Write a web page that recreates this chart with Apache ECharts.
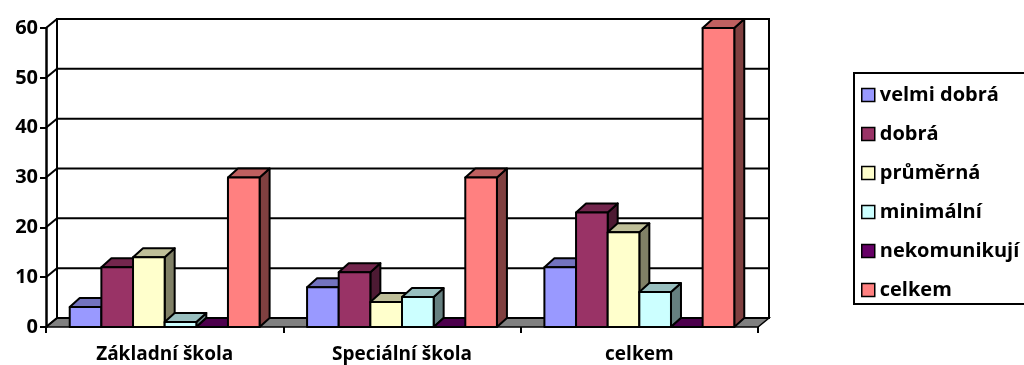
<!DOCTYPE html>
<html>
<head>
<meta charset="utf-8">
<script src="https://cdn.jsdelivr.net/npm/echarts@6/dist/echarts.min.js"></script>
<style>
  html, body { margin: 0; padding: 0; background: #fff; }
  #chart { width: 1024px; height: 365px; }
</style>
</head>
<body>
<div id="chart"></div>
<script>
// Hodnocení komunikace žáků podle typu školy
const categories = ['Základní škola', 'Speciální škola', 'celkem'];
const seriesNames = ['velmi dobrá', 'dobrá', 'průměrná', 'minimální', 'nekomunikují', 'celkem'];
const velmiDobra   = [4, 8, 12];
const dobra        = [12, 11, 23];
const prumerna     = [14, 5, 19];
const minimalni    = [1, 6, 7];
const nekomunikuji = [0, 0, 0];
const celkem       = [30, 30, 60];
const yTicks = [0, 10, 20, 30, 40, 50, 60];

const seriesValues = [velmiDobra, dobra, prumerna, minimalni, nekomunikuji, celkem];
const colors = ['#9999FF', '#993366', '#FFFFCC', '#CCFFFF', '#660066', '#FF8080'];

const FONT = '"Open Sans"';
const DEPTH_X = 11, DEPTH_Y = -9;   // oblique depth of the 3-D box
const BAR_DX = 10, BAR_DY = -9;     // depth of each column

function shade(hex, k) {
  const n = parseInt(hex.slice(1), 16);
  const r = Math.round(((n >> 16) & 255) * k);
  const g = Math.round(((n >> 8) & 255) * k);
  const b = Math.round((n & 255) * k);
  return 'rgb(' + r + ',' + g + ',' + b + ')';
}

// walls, floor and back-wall gridlines
function renderWalls(params, api) {
  const cs = params.coordSys;
  const left = cs.x, right = cs.x + cs.width;
  const y0 = api.coord([0, 0])[1];
  const children = [];
  // floor
  children.push({
    type: 'polygon',
    shape: { points: [[left, y0], [right, y0], [right + DEPTH_X, y0 + DEPTH_Y], [left + DEPTH_X, y0 + DEPTH_Y]] },
    style: { fill: '#808080', stroke: '#000', lineWidth: 1.5 }
  });
  // back wall
  const yTop = api.coord([0, yTicks[yTicks.length - 1]])[1];
  children.push({
    type: 'rect',
    shape: { x: left + DEPTH_X, y: yTop + DEPTH_Y, width: cs.width, height: y0 - yTop },
    style: { fill: '#fff', stroke: '#000', lineWidth: 2 }
  });
  // gridlines and their links to the front axis
  yTicks.forEach(function (t) {
    const yy = api.coord([0, t])[1];
    children.push({
      type: 'line',
      shape: { x1: left + DEPTH_X, y1: yy + DEPTH_Y, x2: right + DEPTH_X, y2: yy + DEPTH_Y },
      style: { stroke: '#000', lineWidth: 2 }
    });
    children.push({
      type: 'line',
      shape: { x1: left, y1: yy, x2: left + DEPTH_X, y2: yy + DEPTH_Y },
      style: { stroke: '#000', lineWidth: 2 }
    });
  });
  return { type: 'group', children: children };
}

function makeBarRenderer(s) {
  return function (params, api) {
    const ci = api.value(0);
    const v = api.value(1);
    const center = api.coord([ci, 0])[0];
    const band = api.size([1, 0])[0];
    const group = band * 0.8;
    const bw = group / seriesNames.length;
    const x0 = center - group / 2 + s * bw;
    const x1 = x0 + bw;
    const yb = api.coord([ci, 0])[1];
    const yt = api.coord([ci, v])[1];
    const c = colors[s];
    const stroke = { stroke: '#000', lineWidth: 2, lineJoin: 'round' };
    return {
      type: 'group',
      children: [
        { type: 'polygon',
          shape: { points: [[x1, yt], [x1 + BAR_DX, yt + BAR_DY], [x1 + BAR_DX, yb + BAR_DY], [x1, yb]] },
          style: Object.assign({ fill: shade(c, 0.5) }, stroke) },
        { type: 'polygon',
          shape: { points: [[x0, yt], [x1, yt], [x1 + BAR_DX, yt + BAR_DY], [x0 + BAR_DX, yt + BAR_DY]] },
          style: Object.assign({ fill: shade(c, 0.75) }, stroke) },
        { type: 'rect',
          shape: { x: x0, y: yt, width: bw, height: yb - yt },
          style: Object.assign({ fill: c }, stroke) }
      ]
    };
  };
}

const series = [{
  type: 'custom',
  name: '_walls',
  silent: true,
  renderItem: renderWalls,
  data: [[0, 0]],
  z: 1
}];
seriesNames.forEach(function (name, s) {
  series.push({
    type: 'custom',
    name: name,
    renderItem: makeBarRenderer(s),
    itemStyle: { color: colors[s] },
    data: seriesValues[s].map(function (v, i) { return [i, v]; }),
    z: 2 + s
  });
});

const chart = echarts.init(document.getElementById('chart'), null, { renderer: 'canvas' });
chart.setOption({
  animation: false,
  backgroundColor: '#fff',
  grid: { left: 46, right: 1024 - 758, top: 28, bottom: 365 - 327, outerBoundsMode: 'none' },
  xAxis: {
    type: 'category',
    data: categories,
    axisLine: { show: false },
    axisTick: { show: true, length: 6, lineStyle: { color: '#000', width: 2 } },
    axisLabel: { color: '#000', fontFamily: FONT, fontWeight: 'bold', fontSize: 19, margin: 18 },
    splitLine: { show: false }
  },
  yAxis: {
    type: 'value',
    min: 0, max: 60, interval: 10,
    axisLine: { show: true, lineStyle: { color: '#000', width: 2.5 } },
    axisTick: { show: true, length: 6, lineStyle: { color: '#000', width: 2 } },
    axisLabel: { color: '#000', fontFamily: FONT, fontWeight: 'bold', fontSize: 20, margin: 8 },
    splitLine: { show: false }
  },
  legend: {
    orient: 'vertical',
    left: 861, top: 84,
    padding: 0,
    itemWidth: 13, itemHeight: 13,
    itemGap: 17,
    icon: 'rect',
    data: seriesNames.map(function (n, i) {
      return { name: n, itemStyle: { color: colors[i], borderColor: '#000', borderWidth: 1.5 } };
    }),
    textStyle: { color: '#000', fontFamily: FONT, fontWeight: 'bold', fontSize: 20, lineHeight: 22 }
  },
  graphic: [{
    type: 'rect',
    shape: { x: 854, y: 73, width: 180, height: 231 },
    style: { fill: 'none', stroke: '#000', lineWidth: 2 },
    z: 0
  }],
  series: series
});
</script>
</body>
</html>
